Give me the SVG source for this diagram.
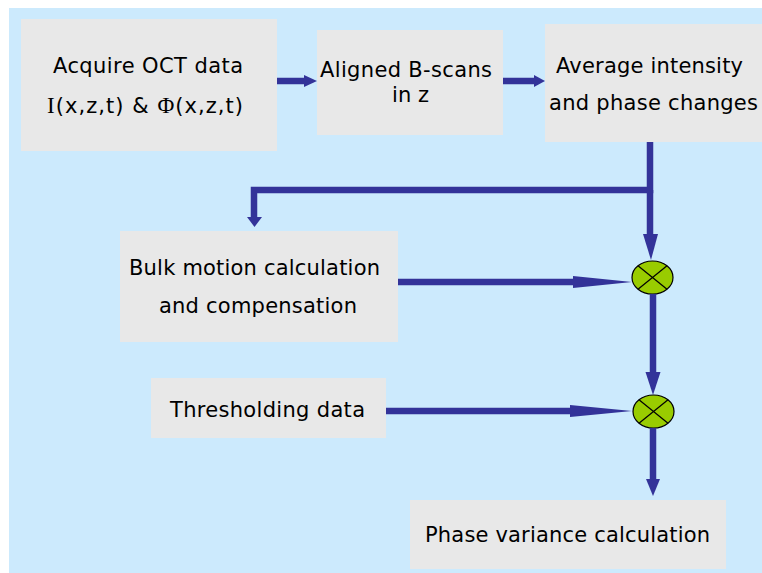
<svg xmlns="http://www.w3.org/2000/svg" width="762" height="573" viewBox="0 0 762 573">
<style>
.box{fill:#e8e8e8}
.t{font-family:"DejaVu Sans","Verdana",sans-serif;font-size:21px;fill:#000}
.s{font-family:"Liberation Serif","Times New Roman",serif;font-size:23px}
.ln{stroke:#333399;stroke-width:6.5;fill:none}
.hd{fill:#333399}
.op{fill:#99cc00;stroke:#000;stroke-width:1.2}
.x{stroke:#000;stroke-width:1.2}
</style>
<rect x="0" y="0" width="762" height="573" fill="#ffffff"/>
<rect x="9" y="8" width="753" height="565" fill="#cceafd"/>
<g id="acquire">
<rect class="box" x="21" y="19" width="256" height="132"/>
<text class="t" x="53" y="73" textLength="190">Acquire OCT data</text>
<text class="t" x="47" y="113" textLength="196"><tspan class="s">I</tspan>(x,z,t) &amp; <tspan class="s">Φ</tspan>(x,z,t)</text>
</g>
<g id="aligned">
<rect class="box" x="317" y="30" width="186" height="105"/>
<text class="t" x="320" y="77" textLength="172">Aligned B-scans</text>
<text class="t" x="392" y="102" textLength="37">in z</text>
</g>
<g id="average">
<rect class="box" x="545" y="24" width="217" height="118"/>
<text class="t" x="556" y="73" textLength="187">Average intensity</text>
<text class="t" x="549" y="110" textLength="209">and phase changes</text>
</g>
<g id="bulk">
<rect class="box" x="120" y="231" width="278" height="111"/>
<text class="t" x="129" y="275" textLength="251">Bulk motion calculation</text>
<text class="t" x="159" y="313" textLength="198">and compensation</text>
</g>
<g id="threshold">
<rect class="box" x="151" y="378" width="235" height="60"/>
<text class="t" x="170" y="417" textLength="195">Thresholding data</text>
</g>
<g id="phasevar">
<rect class="box" x="410" y="500" width="316" height="69"/>
<text class="t" x="425" y="542" textLength="285">Phase variance calculation</text>
</g>
<g id="mult1">
<ellipse class="op" cx="652.5" cy="277.5" rx="20.5" ry="16.5"/>
<line class="x" x1="638" y1="265.8" x2="667" y2="289.2"/>
<line class="x" x1="638" y1="289.2" x2="667" y2="265.8"/>
</g>
<g id="mult2">
<ellipse class="op" cx="653.5" cy="411.5" rx="20.5" ry="16.5"/>
<line class="x" x1="639" y1="399.8" x2="668" y2="423.2"/>
<line class="x" x1="639" y1="423.2" x2="668" y2="399.8"/>
</g>
<g id="connectors">
<line class="ln" x1="277" y1="81" x2="306" y2="81"/>
<polygon class="hd" points="304,75 317,81 304,87"/>
<line class="ln" x1="503" y1="81" x2="536" y2="81"/>
<polygon class="hd" points="534,75 545,81 534,87"/>
<polyline class="ln" points="650,142 650,190 254,190 254,218"/>
<polygon class="hd" points="247,217 262,217 254.5,227"/>
<line class="ln" x1="650" y1="190" x2="650" y2="236"/>
<polygon class="hd" points="643,234 658,234 651,260"/>
<line class="ln" x1="398" y1="282" x2="575" y2="282"/>
<polygon class="hd" points="573,276 632,282 573,288"/>
<line class="ln" x1="386" y1="411" x2="572" y2="411"/>
<polygon class="hd" points="570,405 632,411 570,417"/>
<line class="ln" x1="653" y1="294" x2="653" y2="374"/>
<polygon class="hd" points="645.5,372 660.5,372 653,395"/>
<line class="ln" x1="653" y1="428" x2="653" y2="481"/>
<polygon class="hd" points="646,479 660,479 653,496"/>
</g>
</svg>
